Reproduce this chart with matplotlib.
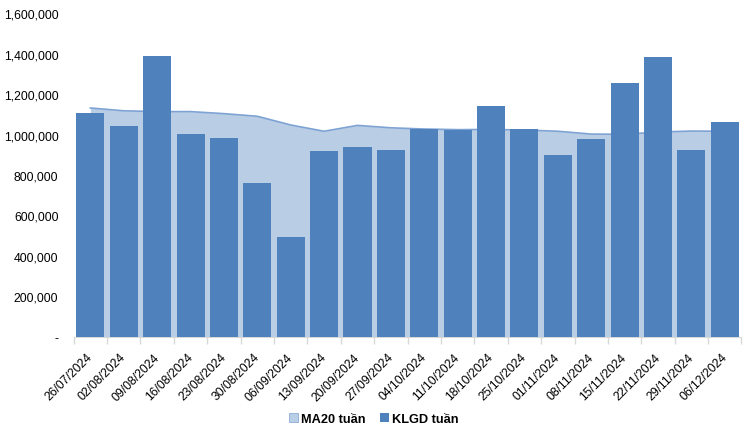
import numpy as np
import matplotlib
matplotlib.use("Agg")
import matplotlib.pyplot as plt
import matplotlib.patches as mpatches
from matplotlib.ticker import FuncFormatter
from matplotlib.transforms import ScaledTranslation

plt.rcParams["font.family"] = ["Liberation Sans", "DejaVu Sans"]
plt.rcParams["font.size"] = 8.8

# ── dữ liệu ─────────────────────────────────────────────
weeks = ["26/07/2024", "02/08/2024", "09/08/2024", "16/08/2024", "23/08/2024",
         "30/08/2024", "06/09/2024", "13/09/2024", "20/09/2024", "27/09/2024",
         "04/10/2024", "11/10/2024", "18/10/2024", "25/10/2024", "01/11/2024",
         "08/11/2024", "15/11/2024", "22/11/2024", "29/11/2024", "06/12/2024"]
klgd = [1106000, 1042000, 1387000, 1002000, 982000,
        760000, 494000, 918000, 938000, 923000,
        1027000, 1022000, 1141000, 1027000, 899000,
        978000, 1254000, 1383000, 923000, 1062000]
ma20 = [1131000, 1117000, 1113000, 1113000, 1103000,
        1090000, 1047000, 1016000, 1045000, 1033000,
        1027000, 1024000, 1025000, 1022000, 1016000,
        1002000, 1001000, 1012000, 1017000, 1016000]

c_bar = "#4F81BD"
c_area = "#B9CDE5"
c_line = "#7DA2D3"

fig = plt.figure(figsize=(7.52, 4.31), dpi=100)
ax = fig.add_axes([0.098, 0.2158, 0.888, 0.7517])

x = np.arange(len(weeks))
ax.fill_between(x, 0, ma20, color=c_area, lw=0, zorder=1)
ax.plot(x, ma20, color=c_line, lw=1.2, zorder=2)
ax.bar(x, klgd, width=0.84, color=c_bar, zorder=3)

ax.set_xlim(-0.5, len(weeks) - 0.5)
ax.set_ylim(0, 1600000)
ax.set_yticks(np.arange(0, 1600001, 200000))
ax.yaxis.set_major_formatter(FuncFormatter(lambda v, p: "-" if v == 0 else f"{int(v):,}"))

# vạch chia ở ranh giới các tuần, nhãn ở giữa
ax.set_xticks(np.arange(-0.5, len(weeks), 1), minor=False)
ax.set_xticklabels([])
ax.set_xticks(x, minor=True)
ax.set_xticklabels(weeks, minor=True, rotation=45, ha="right", va="top", rotation_mode="anchor")
ax.tick_params(axis="x", which="major", length=5, color="#D9D9D9", width=1)
ax.tick_params(axis="x", which="minor", length=0, pad=10)
ax.tick_params(axis="y", length=0, pad=11)
for lbl in ax.get_xticklabels(minor=True):
    lbl.set_transform(lbl.get_transform() + ScaledTranslation(-0.04, 0, fig.dpi_scale_trans))

for s in ["top", "right", "left"]:
    ax.spines[s].set_visible(False)
ax.spines["bottom"].set_color("#D9D9D9")

handles = [mpatches.Patch(facecolor=c_area, edgecolor=c_line, lw=0.5, label="MA20 tuần"),
           mpatches.Patch(facecolor=c_bar, label="KLGD tuần")]
fig.legend(handles=handles, loc="center", bbox_to_anchor=(0.497, 0.026), ncol=2,
           frameon=False, handlelength=0.7, handleheight=0.7, handletextpad=0.25,
           columnspacing=1.1, prop={"weight": "bold", "size": 9.2})

fig.savefig("out.png", dpi=100)
